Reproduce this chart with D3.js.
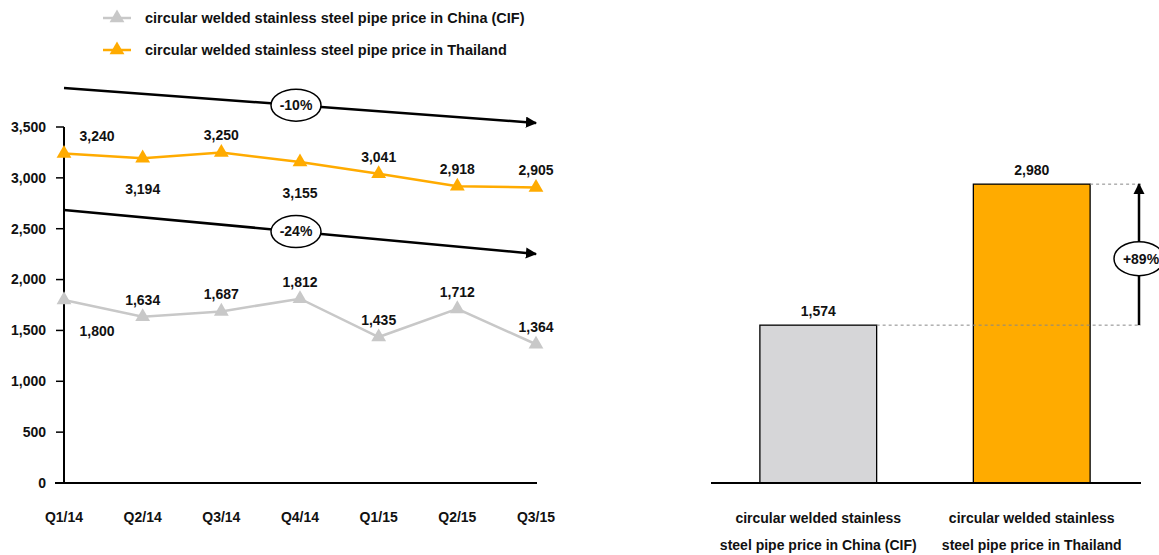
<!DOCTYPE html>
<html lang="en">
<head>
<meta charset="utf-8">
<title>Stainless steel pipe prices</title>
<script src="https://d3js.org/d3.v7.min.js"></script>
<style>
  body { margin: 0; background: #fff; }
  svg text { font-family: "Liberation Sans", Arial, sans-serif; font-weight: bold; fill: #111; }
</style>
</head>
<body>
<div id="chart"></div>
<script>
// data
var quarters = ["Q1/14", "Q2/14", "Q3/14", "Q4/14", "Q1/15", "Q2/15", "Q3/15"];
var thailand = [3240, 3194, 3250, 3155, 3041, 2918, 2905];
var china = [1800, 1634, 1687, 1812, 1435, 1712, 1364];
var yTicks = [0, 500, 1000, 1500, 2000, 2500, 3000, 3500];
var seriesNames = ["circular welded stainless steel pipe price in China (CIF)",
                   "circular welded stainless steel pipe price in Thailand"];
var barCategories = ["China", "Thailand"];
var barValues = [1574, 2980];
var barLabels = [["circular welded stainless", "steel pipe price in China (CIF)"],
                 ["circular welded stainless", "steel pipe price in Thailand"]];
var trendLabels = ["-10%", "-24%"];
var gapLabel = "+89%";

var width = 1159, height = 555;
var orange = "#ffab00", grey = "#c8c8c8";
var fs = "14px";

var svg = d3.select("#chart").append("svg")
    .attr("width", width)
    .attr("height", height);

svg.append("defs").append("marker")
    .attr("id", "arrow")
    .attr("viewBox", "0 0 10 10")
    .attr("refX", 9).attr("refY", 5)
    .attr("markerWidth", 4.5).attr("markerHeight", 4.5)
    .attr("orient", "auto")
    .append("path").attr("d", "M0,0 L10,5 L0,10 z").attr("fill", "#000");

// ---------- left: line chart ----------
var x = d3.scalePoint().domain(quarters).range([64, 536]);
var y = d3.scaleLinear().domain([0, 3500]).range([483, 127]);

// y axis
svg.append("line").attr("x1", 64).attr("x2", 64).attr("y1", y(3500)).attr("y2", y(0))
    .attr("stroke", "#000").attr("stroke-width", 2);
svg.selectAll(".ytick").data(yTicks).enter().append("line")
    .attr("x1", 56).attr("x2", 64)
    .attr("y1", function(d) { return y(d); }).attr("y2", function(d) { return y(d); })
    .attr("stroke", "#000").attr("stroke-width", 1.5);
svg.selectAll(".ylab").data(yTicks).enter().append("text")
    .attr("x", 46).attr("y", function(d) { return y(d); })
    .attr("dy", "0.35em").attr("text-anchor", "end")
    .style("font-size", fs)
    .text(function(d) { return d3.format(",")(d); });
// x axis
svg.append("line").attr("x1", 55).attr("x2", 537).attr("y1", y(0)).attr("y2", y(0))
    .attr("stroke", "#000").attr("stroke-width", 2);
svg.selectAll(".xlab").data(quarters).enter().append("text")
    .attr("x", function(d) { return x(d); }).attr("y", 522)
    .attr("text-anchor", "middle")
    .style("font-size", fs)
    .text(function(d) { return d; });

// trend arrows (drawn behind the series)
var trends = [
    {label: trendLabels[0], from: 3884, to: 3540},
    {label: trendLabels[1], from: 2684, to: 2252}
];
trends.forEach(function(t) {
    svg.append("line")
        .attr("x1", x(quarters[0])).attr("y1", y(t.from))
        .attr("x2", x(quarters[6])).attr("y2", y(t.to))
        .attr("stroke", "#000").attr("stroke-width", 2.5)
        .attr("marker-end", "url(#arrow)");
    var mx = 296;
    var my = y(t.from) + (y(t.to) - y(t.from)) * (mx - 64) / (536 - 64);
    svg.append("ellipse").attr("cx", mx).attr("cy", my).attr("rx", 25).attr("ry", 16)
        .attr("fill", "#fff").attr("stroke", "#000").attr("stroke-width", 1.5);
    svg.append("text").attr("x", mx).attr("y", my).attr("dy", "0.35em")
        .attr("text-anchor", "middle").style("font-size", fs).text(t.label);
});

var line = d3.line().x(function(d, i) { return x(quarters[i]); }).y(function(d) { return y(d); });
var tri = d3.symbol().type(d3.symbolTriangle).size(95);

function drawSeries(values, color, below) {
    svg.append("path").datum(values).attr("d", line)
        .attr("fill", "none").attr("stroke", color).attr("stroke-width", 2.5);
    svg.selectAll(null).data(values).enter().append("path")
        .attr("d", tri)
        .attr("transform", function(d, i) { return "translate(" + x(quarters[i]) + "," + y(d) + ")"; })
        .attr("fill", color);
    svg.selectAll(null).data(values).enter().append("text")
        .attr("x", function(d, i) { return x(quarters[i]) + (i === 0 ? 33 : 0); })
        .attr("y", function(d, i) { return y(d) + (below[i] ? 31 : -17); })
        .attr("dy", "0.35em")
        .attr("text-anchor", "middle")
        .style("font-size", fs)
        .text(function(d) { return d3.format(",")(d); });
}
drawSeries(thailand, orange, [false, true, false, true, false, false, false]);
drawSeries(china, grey, [true, false, false, false, false, false, false]);

// legend
[grey, orange].forEach(function(c, i) {
    var ly = 18 + i * 32;
    svg.append("line").attr("x1", 103).attr("x2", 131).attr("y1", ly).attr("y2", ly)
        .attr("stroke", c).attr("stroke-width", 2.5);
    svg.append("path").attr("d", tri).attr("transform", "translate(117," + ly + ")").attr("fill", c);
    svg.append("text").attr("x", 145).attr("y", ly).attr("dy", "0.35em")
        .style("font-size", "14.5px").text(seriesNames[i]);
});

// ---------- right: bar chart ----------
var xb = d3.scaleBand().domain(barCategories).range([711, 1139])
    .paddingInner(0.453).paddingOuter(0.229);
var yb = d3.scaleLinear().domain([0, 3500]).range([483, 483 - 351]);
var barColors = ["#d6d6d8", orange];

svg.selectAll(".bar").data(barValues).enter().append("rect")
    .attr("x", function(d, i) { return xb(barCategories[i]); })
    .attr("y", function(d) { return yb(d); })
    .attr("width", xb.bandwidth())
    .attr("height", function(d) { return yb(0) - yb(d); })
    .attr("fill", function(d, i) { return barColors[i]; })
    .attr("stroke", "#000").attr("stroke-width", 1.3);
svg.append("line").attr("x1", 711).attr("x2", 1141).attr("y1", yb(0)).attr("y2", yb(0))
    .attr("stroke", "#000").attr("stroke-width", 2);
svg.selectAll(".bval").data(barValues).enter().append("text")
    .attr("x", function(d, i) { return xb(barCategories[i]) + xb.bandwidth() / 2; })
    .attr("y", function(d) { return yb(d) - 9; })
    .attr("text-anchor", "middle").style("font-size", fs)
    .text(function(d) { return d3.format(",")(d); });
barLabels.forEach(function(lines, i) {
    lines.forEach(function(t, j) {
        svg.append("text")
            .attr("x", xb(barCategories[i]) + xb.bandwidth() / 2)
            .attr("y", 518 + j * 27).attr("dy", "0.35em")
            .attr("text-anchor", "middle").style("font-size", fs).text(t);
    });
});

// dashed guides and the gap arrow
barValues.forEach(function(d, i) {
    svg.append("line")
        .attr("x1", xb(barCategories[i]) + xb.bandwidth()).attr("x2", 1141)
        .attr("y1", yb(d)).attr("y2", yb(d))
        .attr("stroke", "#888").attr("stroke-width", 1).attr("stroke-dasharray", "3,3");
});
var ax = 1139;
svg.append("line").attr("x1", ax).attr("x2", ax)
    .attr("y1", yb(barValues[0])).attr("y2", yb(barValues[1]))
    .attr("stroke", "#000").attr("stroke-width", 2.5).attr("marker-end", "url(#arrow)");
var gy = (yb(barValues[0]) + yb(barValues[1])) / 2 + 4;
svg.append("ellipse").attr("cx", ax).attr("cy", gy).attr("rx", 25).attr("ry", 17)
    .attr("fill", "#fff").attr("stroke", "#000").attr("stroke-width", 1.5);
svg.append("text").attr("x", ax + 2).attr("y", gy).attr("dy", "0.35em")
    .attr("text-anchor", "middle").style("font-size", fs).text(gapLabel);
</script>
</body>
</html>
